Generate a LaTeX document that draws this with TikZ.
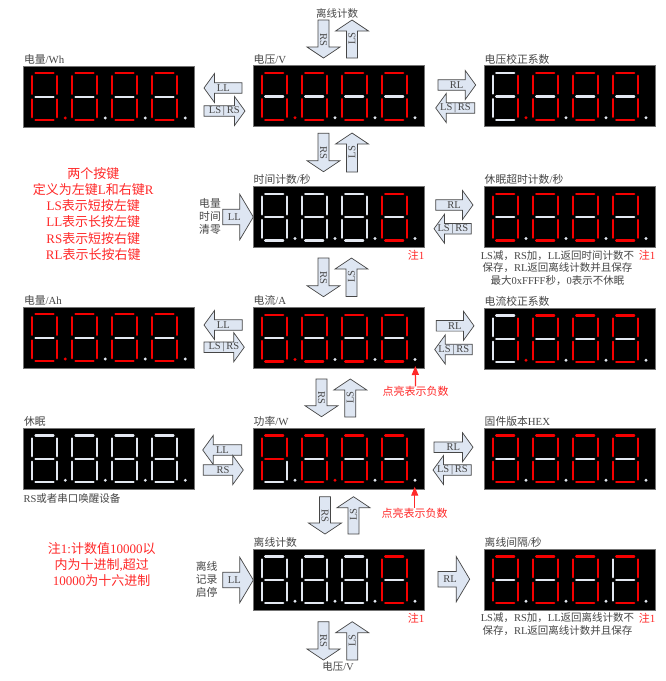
\documentclass[tikz,border=0pt]{standalone}
\usepackage{fontspec}
\setmainfont{Liberation Serif}
\newfontfamily\cjkfont{Noto Sans CJK SC}
\usetikzlibrary{arrows.meta}
% automatic switch to the CJK font for CJK characters
\XeTeXinterchartokenstate=1
\chardef\CJKcls=100
\newcount\cjkc
\cjkc="4E00
\loop
 \XeTeXcharclass\cjkc=\CJKcls
 \advance\cjkc by 1
\ifnum\cjkc<"A000 \repeat
\cjkc="3000
\loop
 \XeTeXcharclass\cjkc=\CJKcls
 \advance\cjkc by 1
\ifnum\cjkc<"3040 \repeat
\cjkc="FF00
\loop
 \XeTeXcharclass\cjkc=\CJKcls
 \advance\cjkc by 1
\ifnum\cjkc<"FFF0 \repeat
\XeTeXinterchartoks 0 \CJKcls = {\begingroup\cjkfont}
\XeTeXinterchartoks 4095 \CJKcls = {\begingroup\cjkfont}
\XeTeXinterchartoks \CJKcls 0 = {\endgroup}
\XeTeXinterchartoks \CJKcls 4095 = {\endgroup}

\definecolor{sr}{RGB}{245,0,0}
\definecolor{sw}{RGB}{226,231,240}
\definecolor{txtgray}{RGB}{70,70,70}
\definecolor{nred}{RGB}{255,40,40}
\definecolor{arrfill}{RGB}{222,230,242}
\definecolor{arrline}{RGB}{70,70,70}

% segment patterns: a b c d e f g dp
\def\pZw{{sr}{sr}{sr}{sr}{sr}{sr}{sw}{sw}}
\def\pZr{{sr}{sr}{sr}{sr}{sr}{sr}{sw}{sr}}
\def\pOw{{sw}{sw}{sw}{sw}{sw}{sw}{sw}{sw}}
\def\pIr{{sw}{sr}{sr}{sw}{sw}{sw}{sw}{sr}}
\def\pPw{{sr}{sr}{sw}{sw}{sr}{sr}{sr}{sw}}
\def\pXw{{sr}{sr}{sr}{sr}{sw}{sw}{sw}{sw}}

\newcommand\segs[8]{%
 \draw[seg,#1] (3.5,0) -- (21.5,0);
 \draw[seg,#2] (25,2.8) -- (25,20.6);
 \draw[seg,#3] (25,26.1) -- (25,43.9);
 \draw[seg,#4] (3.5,46.7) -- (21.5,46.7);
 \draw[seg,#5] (0,26.1) -- (0,43.9);
 \draw[seg,#6] (0,2.8) -- (0,20.6);
 \draw[seg,#7] (3.5,23.35) -- (21.5,23.35);
 \fill[#8] (33.3,44.7) circle (1.6);}
\newcommand\dig[3]{%
 \begin{scope}[shift={(#1,#2)}]
 \expandafter\segs#3
 \end{scope}}
\newcommand\display[8]{%
 \node[dispbox,anchor=north west] (#1) at (#2,#3) {};
 \node[ttl,anchor=south west] (#1t) at (#2+0.5,#3-1.5) {#4};
 \dig{#2+8.7}{#3+7.3}{#5}
 \dig{#2+48.7}{#3+7.3}{#6}
 \dig{#2+88.7}{#3+7.3}{#7}
 \dig{#2+128.7}{#3+7.3}{#8}}

\newcommand\setarr[4]{\def\ash{#1}\def\ahh{#2}\def\ahl{#3}\def\als{#4}}
\newcommand\barrow[6]{%
 \begin{scope}[shift={#2},rotate=#3]
  \draw[blockarrow] (0,-\ash) -- ({#4-\ahl},-\ash) -- ({#4-\ahl},-\ahh) -- (#4,0)
    -- ({#4-\ahl},\ahh) -- ({#4-\ahl},\ash) -- (0,\ash) -- cycle;
  \node[arrlabel,rotate=#5] (#1) at ({(#4-\ahl)/2+\als},0) {#6};
 \end{scope}}

\begin{document}
\begin{tikzpicture}[x=1pt,y=-1pt,
 seg/.style={line width=2.3pt,line cap=round},
 dispbox/.style={fill=black,draw=black!55,line width=0.6pt,minimum width=171pt,minimum height=61pt,inner sep=0pt,outer sep=0pt},
 ttl/.style={text=txtgray,font=\fontsize{10.8}{12}\selectfont,inner sep=0pt},
 blockarrow/.style={fill=arrfill,draw=arrline,line width=0.7pt,line join=miter},
 arrlabel/.style={text=txtgray,font=\fontsize{10.5}{11}\selectfont,inner sep=0pt},
 graytext/.style={text=txtgray,font=\fontsize{10.5}{12.5}\selectfont,inner sep=0pt,align=center},
 sidetext/.style={text=txtgray,font=\fontsize{10.8}{13}\selectfont,inner sep=0pt,align=center},
 rednote/.style={text=nred,font=\fontsize{13}{16.2}\selectfont,inner sep=0pt,align=center},
 redsmall/.style={text=nred,font=\fontsize{11}{12}\selectfont,inner sep=0pt},
 redarr/.style={draw=nred,line width=1.2pt,-{Triangle[length=9pt,width=7pt]}}
]
\fill[white] (0,0) rectangle (666,681);
\useasboundingbox (0,0) rectangle (666,681);

% displays
\display{wh}{23.3}{66}{电量/Wh}{\pZr}{\pZw}{\pZw}{\pZw}
\display{volt}{253}{65.7}{电压/V}{\pZr}{\pZw}{\pZw}{\pZw}
\display{vcal}{484}{65.7}{电压校正系数}{\pIr}{\pZw}{\pZw}{\pZw}
\display{tcnt}{253}{186.5}{时间计数/秒}{\pOw}{\pOw}{\pOw}{\pZw}
\display{sleept}{484}{186.5}{休眠超时计数/秒}{\pZw}{\pZw}{\pZw}{\pZw}
\display{ah}{23.3}{307}{电量/Ah}{\pZr}{\pZw}{\pZw}{\pZw}
\display{curr}{253}{307.5}{电流/A}{\pZr}{\pZw}{\pZw}{\pZw}
\display{ccal}{484}{308.3}{电流校正系数}{\pIr}{\pZw}{\pZw}{\pZw}
\display{sleep}{23.3}{428.3}{休眠}{\pOw}{\pOw}{\pOw}{\pOw}
\display{pow}{253}{428.3}{功率/W}{\pPw}{\pZr}{\pZw}{\pZw}
\display{fw}{484}{428.3}{固件版本HEX}{\pZw}{\pZw}{\pZw}{\pZw}
\display{off}{253}{549.3}{离线计数}{\pOw}{\pOw}{\pOw}{\pZw}
\display{offi}{484}{549.3}{离线间隔/秒}{\pZw}{\pZw}{\pZw}{\pXw}

% vertical arrows
\setarr{5.5}{16.5}{11}{6}
\barrow{v0d}{(323.5,20)}{-90}{38}{-90}{RS}
\barrow{v0u}{(352,58)}{90}{38}{90}{LS}
\barrow{v1d}{(323.5,133.3)}{-90}{38.4}{-90}{RS}
\barrow{v1u}{(352,172)}{90}{39}{90}{LS}
\barrow{v2d}{(323.5,258)}{-90}{38.7}{-90}{RS}
\barrow{v2u}{(351.5,296.5)}{90}{38.5}{90}{LS}
\barrow{v3d}{(321.5,379)}{-90}{37.7}{-90}{RS}
\barrow{v3u}{(350.3,417)}{90}{38}{90}{LS}
\barrow{v4d}{(325,496.7)}{-90}{37.3}{-90}{RS}
\barrow{v4u}{(353.5,534)}{90}{37.3}{90}{LS}
\barrow{v5d}{(323.5,621.7)}{-90}{38.3}{-90}{RS}
\barrow{v5u}{(352.3,660)}{90}{38.3}{90}{LS}

% horizontal arrows, left side
\setarr{5.3}{14.5}{10.5}{5}
\barrow{h1l}{(242,88)}{180}{38}{0}{LL}
\barrow{h1r}{(204,111)}{0}{41}{0}{LS\,|\,RS}
\barrow{h3l}{(242.3,325)}{180}{38.3}{0}{LL}
\barrow{h3r}{(204,347.2)}{0}{40.3}{0}{LS\,|\,RS}
\barrow{h4l}{(241.7,450)}{180}{39}{0}{LL}
\barrow{h4r}{(203.3,470)}{0}{40}{0}{RS}
% horizontal arrows, right side
\barrow{r1r}{(438,85)}{0}{37.7}{0}{RL}
\barrow{r1l}{(474.7,108)}{180}{39}{0}{LS\,|\,RS}
\barrow{r2r}{(435.7,205)}{0}{37.3}{0}{RL}
\barrow{r2l}{(471.3,228.7)}{180}{37.3}{0}{LS\,|\,RS}
\barrow{r3r}{(436.3,325.8)}{0}{37.7}{0}{RL}
\barrow{r3l}{(472.3,349.5)}{180}{37.6}{0}{LS\,|\,RS}
\barrow{r4r}{(434,447.2)}{0}{39}{0}{RL}
\barrow{r4l}{(471.3,470)}{180}{38.3}{0}{LS\,|\,RS}
% big arrows
\setarr{7.8}{22.7}{13.5}{3}
\barrow{b2}{(222.7,217)}{0}{30.6}{0}{LL}
\barrow{b5}{(222.7,580)}{0}{30.6}{0}{LL}
\barrow{b5r}{(438,579.2)}{0}{31.7}{0}{RL}

% texts
\node[graytext] (toplbl) at (337,13) {离线计数};
\node[graytext] (botlbl) at (338,667) {电压/V};
\node[sidetext] (clr) at (210,216) {电量\\时间\\清零};
\node[sidetext] (rec) at (206.7,579) {离线\\记录\\启停};
\node[rednote] (keys) at (93.3,213.8) {两个按键\\定义为左键L和右键R\\LS表示短按左键\\LL表示长按左键\\RS表示短按右键\\RL表示长按右键};
\node[rednote] (note1) at (101.7,564.4) {注1:计数值10000以\\内为十进制,超过\\10000为十六进制};
\node[graytext] (sleepdesc) at (557.5,267.7) {LS减，RS加，LL返回时间计数不\\保存，RL返回离线计数并且保存\\最大0xFFFF秒，0表示不休眠};
\node[graytext] (offidesc) at (557.5,624.2) {LS减，RS加，LL返回离线计数不\\保存，RL返回离线计数并且保存};
\node[graytext,anchor=west] (wake) at (23.3,498.3) {RS或者串口唤醒设备};
\node[redsmall] (n1a) at (416,255) {注1};
\node[redsmall] (n1b) at (647,255) {注1};
\node[redsmall] (n1c) at (416,618.3) {注1};
\node[redsmall] (n1d) at (647,618.3) {注1};
\node[redsmall] (neg1) at (415.5,391.7) {点亮表示负数};
\node[redsmall] (neg2) at (414.7,513.3) {点亮表示负数};
\coordinate (tip1) at (415.3,366);
\coordinate (tip2) at (414.7,486.7);
\draw[redarr] (neg1.north) -- (tip1);
\draw[redarr] (neg2.north) -- (tip2);
\end{tikzpicture}
\end{document}
